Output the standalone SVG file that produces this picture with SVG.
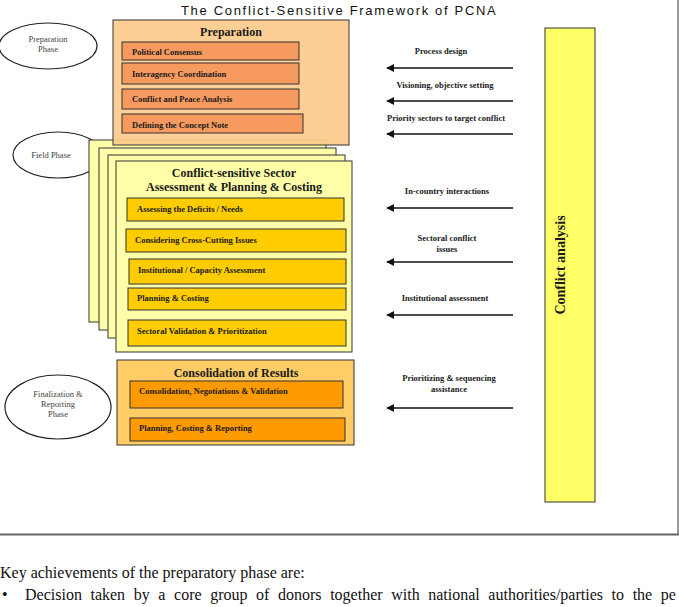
<svg xmlns="http://www.w3.org/2000/svg" width="679" height="607" viewBox="0 0 679 607">
<style>
  .b { font-family: "Liberation Serif", "Times New Roman", serif; font-weight: bold; fill: #1a1a1a; }
  .lbl { font-size: 8.5px; }
  .arrlbl { font-size: 8.5px; text-anchor: middle; }
  .hd { font-size: 12px; text-anchor: middle; }
  .ell { font-family: "Liberation Serif", "Times New Roman", serif; font-size: 8.5px; fill: #444; text-anchor: middle; }
  .phase { fill: #fff; stroke: #222; stroke-width: 1.2; }
  .box { stroke: #333; stroke-width: 1; }
  .card { fill: #FFFFAA; stroke: #333; stroke-width: 1; }
  .orange { fill: #F79A5F; stroke: #333; stroke-width: 1; }
  .gold { fill: #FFCC00; stroke: #333; stroke-width: 1; }
  .amber { fill: #FF9A00; stroke: #333; stroke-width: 1; }
  .conn { stroke: #111; stroke-width: 1.6; fill: none; marker-end: url(#ah); }
  .body { font-family: "Liberation Serif", "Times New Roman", serif; font-size: 16px; fill: #111; }
</style>
<defs>
  <marker id="ah" viewBox="0 0 10 10" refX="9" refY="5" markerWidth="5" markerHeight="5" orient="auto" markerUnits="strokeWidth">
    <path d="M0,0 L10,5 L0,10 z" fill="#111"/>
  </marker>
</defs>
<rect width="679" height="607" fill="#fff"/>

<!-- frame -->
<g id="frame">
  <line x1="678" y1="0" x2="678" y2="535" stroke="#555" stroke-width="1.2"/>
  <line x1="0" y1="534.5" x2="679" y2="534.5" stroke="#666" stroke-width="2"/>
</g>

<text x="181" y="15" font-family="Liberation Sans, Arial, sans-serif" font-size="13" fill="#111" letter-spacing="1.68">The Conflict-Sensitive Framework of PCNA</text>

<!-- phase ellipses -->
<g id="phase-preparation">
  <ellipse class="phase" cx="48" cy="46" rx="49" ry="23"/>
  <text class="ell" x="48" y="42">Preparation</text>
  <text class="ell" x="48" y="52">Phase</text>
</g>
<g id="phase-field">
  <ellipse class="phase" cx="58" cy="155" rx="45" ry="23"/>
  <text class="ell" x="51" y="158">Field Phase</text>
</g>
<g id="phase-final">
  <ellipse class="phase" cx="58" cy="407" rx="53" ry="32"/>
  <text class="ell" x="58" y="397">Finalization &amp;</text>
  <text class="ell" x="58" y="407">Reporting</text>
  <text class="ell" x="58" y="417">Phase</text>
</g>

<!-- field stack -->
<g id="field-assessment">
  <rect class="card" x="89" y="140" width="237" height="182"/>
  <rect class="card" x="99" y="148" width="237" height="182"/>
  <rect class="card" x="108" y="155" width="237" height="183"/>
  <rect class="card" x="116" y="161" width="236" height="191"/>
  <text class="b hd" x="234" y="177" font-size="11.5">Conflict-sensitive Sector</text>
  <text class="b hd" x="234" y="191" font-size="11.5">Assessment &amp; Planning &amp; Costing</text>
  <g id="deficits"><rect class="gold" x="127" y="198" width="217" height="23"/><text class="b lbl" x="137" y="212">Assessing the Deficits / Needs</text></g>
  <g id="crosscutting"><rect class="gold" x="126" y="229" width="220" height="23"/><text class="b lbl" x="135" y="243">Considering Cross-Cutting Issues</text></g>
  <g id="institutional"><rect class="gold" x="129" y="259" width="217" height="25"/><text class="b lbl" x="138" y="273">Institutional / Capacity Assessment</text></g>
  <g id="planning"><rect class="gold" x="128" y="288" width="218" height="22"/><text class="b lbl" x="137" y="301">Planning &amp; Costing</text></g>
  <g id="validation"><rect class="gold" x="128" y="320" width="218" height="26"/><text class="b lbl" x="137" y="334">Sectoral Validation &amp; Prioritization</text></g>
</g>

<!-- preparation -->
<g id="preparation">
  <rect class="box" x="113" y="20" width="236" height="125" fill="#FDCB8C" fill-opacity="0.93"/>
  <text class="b hd" x="231" y="36">Preparation</text>
  <g id="political"><rect class="orange" x="122" y="42" width="177" height="18"/><text class="b lbl" x="132" y="55">Political Consensus</text></g>
  <g id="interagency"><rect class="orange" x="122" y="63" width="177" height="21"/><text class="b lbl" x="132" y="77">Interagency Coordination</text></g>
  <g id="cpa"><rect class="orange" x="122" y="89" width="177" height="20"/><text class="b lbl" x="132" y="102">Conflict and Peace Analysis</text></g>
  <g id="concept"><rect class="orange" x="122" y="114" width="181" height="19"/><text class="b lbl" x="132" y="128">Defining the Concept Note</text></g>
</g>

<!-- consolidation -->
<g id="consolidation">
  <rect class="box" x="117" y="360" width="237" height="85" fill="#FFCC66"/>
  <text class="b hd" x="236" y="377">Consolidation of Results</text>
  <g id="negotiations"><rect class="amber" x="130" y="381" width="213" height="27"/><text class="b lbl" x="139" y="394">Consolidation, Negotiations &amp; Validation</text></g>
  <g id="reporting"><rect class="amber" x="130" y="418" width="215" height="23"/><text class="b lbl" x="139" y="431">Planning, Costing &amp; Reporting</text></g>
</g>

<!-- conflict analysis -->
<g id="conflict-analysis">
  <rect x="545" y="28" width="50" height="474" fill="#FFFF66" stroke="#333" stroke-width="1"/>
  <text class="b" font-size="14" text-anchor="middle" transform="translate(565,265) rotate(-90)">Conflict analysis</text>
</g>

<!-- connectors -->
<g id="connectors">
  <line class="conn" x1="513" y1="68" x2="387" y2="68"/>
  <line class="conn" x1="513" y1="101" x2="387" y2="101"/>
  <line class="conn" x1="513" y1="134" x2="387" y2="134"/>
  <line class="conn" x1="513" y1="208" x2="387" y2="208"/>
  <line class="conn" x1="513" y1="262" x2="387" y2="262"/>
  <line class="conn" x1="513" y1="315" x2="387" y2="315"/>
  <line class="conn" x1="513" y1="408" x2="387" y2="408"/>
  <text class="b arrlbl" x="441" y="54">Process design</text>
  <text class="b arrlbl" x="445" y="88">Visioning, objective setting</text>
  <text class="b arrlbl" x="446" y="121">Priority sectors to target conflict</text>
  <text class="b arrlbl" x="447" y="194">In-country interactions</text>
  <text class="b arrlbl" x="447" y="241">Sectoral conflict</text>
  <text class="b arrlbl" x="447" y="252">issues</text>
  <text class="b arrlbl" x="445" y="301">Institutional assessment</text>
  <text class="b arrlbl" x="449" y="381">Prioritizing &amp; sequencing</text>
  <text class="b arrlbl" x="449" y="392">assistance</text>
</g>

<!-- body text -->
<text class="body" x="0" y="578">Key achievements of the preparatory phase are:</text>
<text class="body" x="2" y="600">•</text>
<text class="body" x="25" y="600" word-spacing="4.6">Decision taken by a core group of donors together with national authorities/parties to the pe</text>
</svg>
